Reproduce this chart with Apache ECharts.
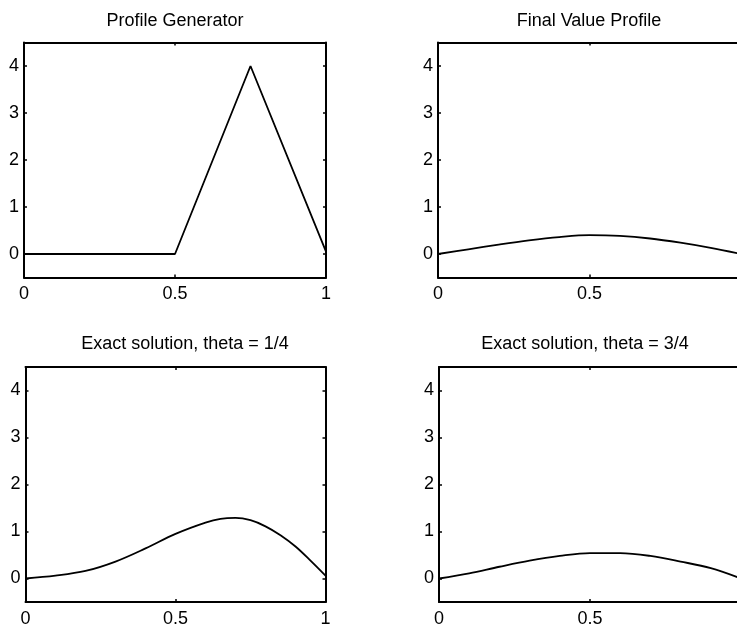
<!DOCTYPE html>
<html><head><meta charset="utf-8">
<script src="https://cdn.jsdelivr.net/npm/echarts@6/dist/echarts.min.js"></script>
<style>html,body{margin:0;padding:0;background:#fff}#c{width:737px;height:626px}</style>
</head><body><div id="c"></div>
<script>
const titles = ['Profile Generator', 'Final Value Profile', 'Exact solution, theta = 1/4', 'Exact solution, theta = 3/4'];
const xTicks = [0, 0.5, 1];
const yTicks = [0, 1, 2, 3, 4];

const genX = [0, 0.5, 0.75, 1];
const genY = [0, 0, 4, 0.05];

const finalX = [0, 0.1, 0.2, 0.3, 0.4, 0.5, 0.6, 0.7, 0.8, 0.9, 1];
const finalY = [0, 0.1, 0.2, 0.29, 0.36, 0.4, 0.385, 0.33, 0.24, 0.13, 0];

const th14X = [0, 0.1, 0.2, 0.3, 0.4, 0.5, 0.6, 0.65, 0.7, 0.75, 0.8, 0.85, 0.9, 0.95, 1];
const th14Y = [0, 0.06, 0.16, 0.36, 0.64, 0.95, 1.19, 1.27, 1.29, 1.24, 1.11, 0.92, 0.68, 0.38, 0.06];

const th34X = [0, 0.1, 0.2, 0.3, 0.4, 0.5, 0.6, 0.7, 0.8, 0.9, 1];
const th34Y = [0, 0.11, 0.25, 0.38, 0.48, 0.54, 0.54, 0.48, 0.36, 0.22, 0];

const FONT = "'Liberation Sans', Arial, Helvetica, sans-serif";
const grids = [
  {left: 24, top: 42.5, width: 302, height: 235},
  {left: 438, top: 42.5, width: 303, height: 235},
  {left: 25.5, top: 367, width: 300, height: 235},
  {left: 439, top: 367, width: 302, height: 235}
].map(g => Object.assign(g, {outerBoundsMode: 'none', containLabel: false}));
const titlePos = [[175, 21], [589, 21], [185, 344.5], [585, 344.5]];
const series = [[genX, genY, false], [finalX, finalY, true], [th14X, th14Y, true], [th34X, th34Y, true]];

const lineStyle = {color: '#000', width: 2};
const xAxes = [], yAxes = [], ser = [], graphic = [];
grids.forEach((g, i) => {
  ['bottom', 'top'].forEach((pos, k) => {
    xAxes.push({
      type: 'value', gridIndex: i, position: pos, min: 0, max: 1,
      axisLine: {show: true, onZero: false, lineStyle},
      axisTick: {show: true, inside: true, length: 3, customValues: xTicks, lineStyle: {color: '#000', width: 1.5}},
      axisLabel: {show: k === 0, customValues: xTicks, margin: 8, color: '#000', fontSize: 18, fontFamily: FONT},
      splitLine: {show: false}
    });
  });
  ['left', 'right'].forEach((pos, k) => {
    yAxes.push({
      type: 'value', gridIndex: i, position: pos, min: -0.5, max: 4.5,
      axisLine: {show: true, onZero: false, lineStyle},
      axisTick: {show: true, inside: true, length: 3, customValues: yTicks, lineStyle: {color: '#000', width: 1.5}},
      axisLabel: {show: k === 0, customValues: yTicks, margin: 5, color: '#000', fontSize: 18, fontFamily: FONT},
      splitLine: {show: false}
    });
  });
  const [xs, ys, smooth] = series[i];
  ser.push({
    type: 'line', xAxisIndex: 2 * i, yAxisIndex: 2 * i,
    data: xs.map((v, j) => [v, ys[j]]),
    showSymbol: false, smooth: smooth ? 0.35 : false,
    lineStyle: {color: '#000', width: 1.8}, animation: false
  });
  graphic.push({
    type: 'text', x: titlePos[i][0], y: titlePos[i][1],
    style: {text: titles[i], fontSize: 18, fontFamily: FONT, fill: '#000',
      textAlign: 'center', align: 'center', textVerticalAlign: 'middle', verticalAlign: 'middle'}
  });
});

const chart = echarts.init(document.getElementById('c'), null, {renderer: 'canvas'});
chart.setOption({
  backgroundColor: '#fff',
  animation: false,
  grid: grids,
  xAxis: xAxes,
  yAxis: yAxes,
  series: ser,
  graphic: graphic
});
</script>
</body></html>
